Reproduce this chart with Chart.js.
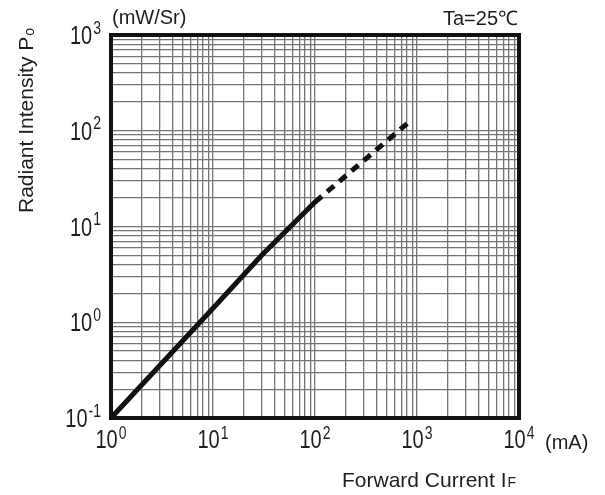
<!DOCTYPE html>
<html>
<head>
<meta charset="utf-8">
<script src="https://cdn.jsdelivr.net/npm/chart.js@4.4.1/dist/chart.umd.min.js"></script>
<style>
  html, body { margin: 0; padding: 0; background: #fff; }
  #wrap { width: 605px; height: 495px; }
</style>
</head>
<body>
<div id="wrap"><canvas id="chart_po"></canvas></div>
<script>
// measured part of the curve (solid)
const currentMeasured = [1, 10, 30, 100];
const intensityMeasured = [0.1, 1.4, 5, 18];
// extrapolated part (dashed)
const currentExtra = [100, 900];
const intensityExtra = [18, 132];

// decade ticks and their exponents
const xTicks = [1, 10, 100, 1000, 10000];
const xTickExp = ['0', '1', '2', '3', '4'];
const yTicks = [0.1, 1, 10, 100, 1000];
const yTickExp = ['-1', '0', '1', '2', '3'];

const FONT = '"Liberation Sans", Arial, sans-serif';
const TEXT = '#1e1e1e';

// log paper: 1..9 per decade
function logGrid(decades) {
    const out = [];
    for (let i = 0; i < decades.length - 1; i++) {
        for (let k = 1; k <= 9; k++) out.push(decades[i] * k);
    }
    out.push(decades[decades.length - 1]);
    return out;
}

const toPoints = (xs, ys) => xs.map((x, i) => ({ x, y: ys[i] }));

// draw "10" with a raised exponent, digits a bit tall like the original
function drawPower(ctx, x, baseBaseline, expBaseline, exp) {
    ctx.save();
    ctx.translate(x, baseBaseline);
    ctx.scale(1, 1.25);
    ctx.font = '20px ' + FONT;
    ctx.fillText('10', 0, 0);
    const w = ctx.measureText('10').width;
    ctx.restore();
    ctx.save();
    ctx.translate(x + w + 1, expBaseline);
    ctx.scale(1, 1.25);
    ctx.font = '14px ' + FONT;
    ctx.fillText(exp, 0, 0);
    ctx.restore();
}

function powerWidth(ctx, exp) {
    ctx.save();
    ctx.font = '20px ' + FONT;
    const a = ctx.measureText('10').width;
    ctx.font = '14px ' + FONT;
    const b = ctx.measureText(exp).width;
    ctx.restore();
    return a + 1 + b;
}

const decorPlugin = {
    id: 'decor',
    afterDraw(chart) {
        const { ctx, chartArea: ca, scales } = chart;
        ctx.save();

        // frame
        ctx.strokeStyle = '#111';
        ctx.lineWidth = 4;
        ctx.strokeRect(ca.left, ca.top, ca.right - ca.left, ca.bottom - ca.top);

        ctx.fillStyle = TEXT;
        ctx.textBaseline = 'alphabetic';
        ctx.textAlign = 'left';

        // x tick labels
        xTicks.forEach((v, i) => {
            const px = scales.x.getPixelForValue(v);
            const w = powerWidth(ctx, xTickExp[i]);
            drawPower(ctx, px - w / 2, ca.bottom + 30, ca.bottom + 21, xTickExp[i]);
        });
        // y tick labels
        yTicks.forEach((v, i) => {
            const py = scales.y.getPixelForValue(v);
            const w = powerWidth(ctx, yTickExp[i]);
            drawPower(ctx, ca.left - 10 - w, py + 9, py - 1.5, yTickExp[i]);
        });

        // units and condition
        ctx.font = '20px ' + FONT;
        ctx.fillText('(mW/Sr)', ca.left + 1, 24);
        ctx.fillText('(mA)', 545, 449);
        ctx.textAlign = 'right';
        ctx.fillText('Ta=25\u2103', ca.right - 1, 25);

        // x title
        ctx.textAlign = 'left';
        ctx.font = '21px ' + FONT;
        const xt = 'Forward Current I';
        ctx.fillText(xt, 342, 487);
        const xw = ctx.measureText(xt).width;
        ctx.font = '14px ' + FONT;
        ctx.fillText('F', 342 + xw + 1, 487);

        // y title, rotated
        ctx.save();
        ctx.translate(33, 213);
        ctx.rotate(-Math.PI / 2);
        ctx.font = '21px ' + FONT;
        const yt = 'Radiant Intensity P';
        ctx.fillText(yt, 0, 0);
        const yw = ctx.measureText(yt).width;
        ctx.font = '14px ' + FONT;
        ctx.fillText('o', yw + 1, 1);
        ctx.restore();

        ctx.restore();
    }
};

const gridStyle = { color: '#747474', lineWidth: 1.3, drawTicks: false };

new Chart(document.getElementById('chart_po'), {
    type: 'line',
    data: {
        datasets: [
            {
                label: 'Po',
                data: toPoints(currentMeasured, intensityMeasured),
                borderColor: '#111',
                borderWidth: 5,
                pointRadius: 0,
                tension: 0,
                borderCapStyle: 'round',
            },
            {
                label: 'Po (extrapolated)',
                data: toPoints(currentExtra, intensityExtra),
                borderColor: '#111',
                borderWidth: 5,
                borderDash: [9, 7],
                pointRadius: 0,
                tension: 0,
            },
        ],
    },
    options: {
        responsive: true,
        maintainAspectRatio: false,
        animation: false,
        layout: { padding: { top: 35, right: 86, left: 0, bottom: 0 } },
        plugins: {
            legend: { display: false },
            tooltip: { enabled: false },
        },
        scales: {
            x: {
                type: 'logarithmic',
                min: xTicks[0],
                max: xTicks[xTicks.length - 1],
                grid: gridStyle,
                border: { display: false },
                ticks: { display: false },
                afterBuildTicks: (scale) => {
                    scale.ticks = logGrid(xTicks).map(value => ({ value }));
                },
                afterFit: (scale) => { scale.height = 77; },
            },
            y: {
                type: 'logarithmic',
                min: yTicks[0],
                max: yTicks[yTicks.length - 1],
                grid: gridStyle,
                border: { display: false },
                ticks: { display: false },
                afterBuildTicks: (scale) => {
                    scale.ticks = logGrid(yTicks).map(value => ({ value }));
                },
                afterFit: (scale) => { scale.width = 111; },
            },
        },
    },
    plugins: [decorPlugin],
});
</script>
</body>
</html>
